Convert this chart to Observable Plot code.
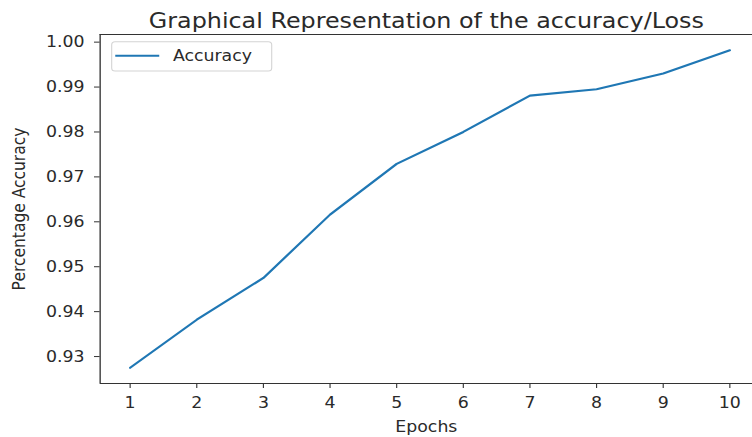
<!DOCTYPE html>
<html><head><meta charset="utf-8">
<script src="https://cdn.jsdelivr.net/npm/d3@7"></script>
<script src="https://cdn.jsdelivr.net/npm/@observablehq/plot@0.6"></script>
<style>html,body{margin:0;padding:0;background:#fff} #chart svg{display:block}</style>
</head><body><div id="chart"></div>
<script>
const epochs = [1, 2, 3, 4, 5, 6, 7, 8, 9, 10];
const accuracy = [0.9275, 0.9382, 0.9475, 0.9616, 0.9729, 0.9800, 0.9881, 0.9895, 0.9930, 0.9982];
const yTicks = [0.93, 0.94, 0.95, 0.96, 0.97, 0.98, 0.99, 1.00];
const xTicks = epochs;
const titleText = "Graphical Representation of the accuracy/Loss";
const xLabel = "Epochs";
const yLabel = "Percentage Accuracy";
const seriesName = "Accuracy";

const data = epochs.map((e, i) => ({epoch: e, acc: accuracy[i]}));
const W = 672, H = 437, SX = 752 / W;
const font = "DejaVu Sans";
const xDomain = [0.55, 10.45];
const yDomain = [0.924, 1.0017];
const ink = "#2a2a2a";

const plot = Plot.plot({
  width: W, height: H,
  marginLeft: 89, marginRight: 0, marginTop: 34, marginBottom: 54,
  style: {fontFamily: font, fontSize: "15.5px", color: ink, background: "#fff", overflow: "visible"},
  x: {domain: xDomain, range: [89, 678.5]},
  y: {domain: yDomain},
  marks: [
    Plot.ruleX([xDomain[0]], {stroke: "#333", strokeWidth: 1.2}),
    Plot.ruleY([yDomain[0], yDomain[1]], {stroke: "#333", strokeWidth: 1.2}),
    Plot.axisX({ticks: xTicks, tickSize: 5, tickPadding: 8, label: null, tickFormat: d => String(d), fill: ink, stroke: "#333"}),
    Plot.axisY({ticks: yTicks, tickSize: 5, tickPadding: 9, label: null, tickFormat: d3.format(".2f"), fill: ink, stroke: "#333"}),
    Plot.line(data, {x: "epoch", y: "acc", stroke: "#1f77b4", strokeWidth: 2.1}),
    Plot.text([titleText], {frameAnchor: "top", dy: -13.7, fontSize: 21.3, lineAnchor: "middle", textAnchor: "middle", fill: ink}),
    Plot.text([xLabel], {frameAnchor: "bottom", dy: 44, lineAnchor: "middle", textAnchor: "middle", fill: ink}),
    Plot.text([yLabel], {frameAnchor: "left", dx: -72.5, rotate: -90, lineAnchor: "middle", textAnchor: "middle", fill: ink})
  ]
});

// legend (inside the axes, upper left)
const svg = d3.select(plot);
const lg = svg.append("g").attr("font-family", font).attr("font-size", 15.5).attr("text-anchor", "start");
lg.append("rect").attr("x", 99.8).attr("y", 41.7).attr("width", 143).attr("height", 29.3)
  .attr("rx", 3).attr("fill", "#fff").attr("stroke", "#d4d4d4").attr("stroke-width", 1);
lg.append("line").attr("x1", 103).attr("x2", 142.3).attr("y1", 55.7).attr("y2", 55.7)
  .attr("stroke", "#1f77b4").attr("stroke-width", 2.1);
lg.append("text").attr("x", 154.5).attr("y", 56.5).attr("dy", "0.32em")
  .attr("text-anchor", "start").attr("fill", ink).text(seriesName);

plot.setAttribute("width", 752);
plot.setAttribute("height", H);
plot.setAttribute("viewBox", `0 0 ${W} ${H}`);
plot.setAttribute("preserveAspectRatio", "none");
plot.style.width = "752px";
plot.style.height = H + "px";
plot.style.maxWidth = "none";
document.getElementById("chart").appendChild(plot);
</script>
</body></html>
